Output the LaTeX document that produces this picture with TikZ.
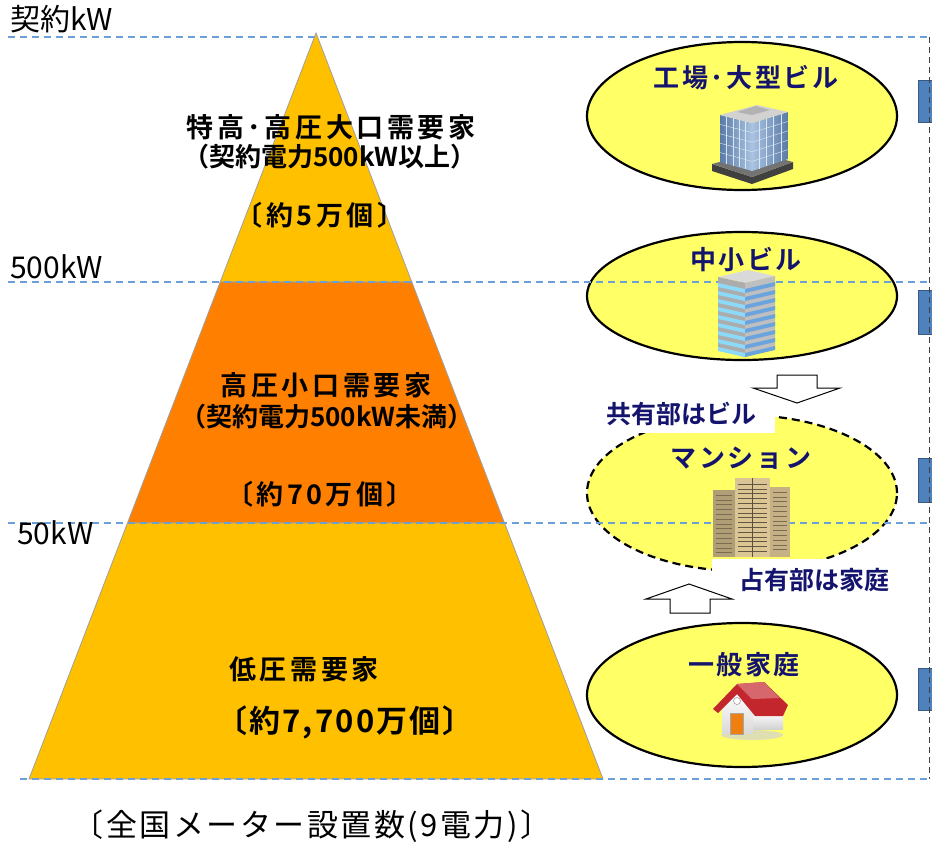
\documentclass[tikz,border=0pt]{standalone}
\usepackage{fontspec}
\setmainfont{Noto Sans CJK JP}[BoldFont={Noto Sans CJK JP Bold}]
\usetikzlibrary{shapes.geometric,calc}

\definecolor{gold}{HTML}{FFC000}
\definecolor{deeporange}{HTML}{FF8000}
\definecolor{lemon}{HTML}{FFFF66}
\definecolor{navy}{HTML}{14146E}
\definecolor{gridblue}{HTML}{6A9FD8}
\definecolor{boxblue}{HTML}{4F81BD}
\definecolor{tan}{HTML}{DCC595}
\definecolor{roofred}{HTML}{C4262E}
\definecolor{glassdark}{HTML}{5A7BA8}
\definecolor{glasslight}{HTML}{A9C3E0}

\tikzset{
  level/.style={draw=gridblue, dash pattern=on 7pt off 5pt, line width=1.2pt},
  tier/.style={draw=gray!75, line width=0.8pt},
  tiertext/.style={font=\bfseries\fontsize{27}{32}\selectfont\addfontfeatures{LetterSpace=13},
    align=center, inner sep=0},
  condtext/.style={tiertext, font=\bfseries\fontsize{26}{31}\selectfont},
  kwlabel/.style={font=\fontsize{30}{34}\selectfont, anchor=west, inner sep=0},
  bubble/.style={ellipse, draw=black, line width=2.2pt, fill=lemon, minimum width=310pt},
  bubbletext/.style={font=\bfseries\fontsize{26}{30}\selectfont\addfontfeatures{LetterSpace=10},
    text=navy, inner sep=0},
  notebox/.style={bubbletext, font=\bfseries\fontsize{25}{30}\selectfont, fill=white, inner sep=0},
  blockarrow/.style={draw=black, fill=white, line width=1pt, line join=miter},
  sidebox/.style={fill=boxblue, draw=boxblue!70!black, line width=1pt},
}

\begin{document}
\begin{tikzpicture}[x=1pt,y=-1pt]
\clip (0,0) rectangle (932,841);
\fill[white] (0,0) rectangle (932,841);

% pyramid
\coordinate (apex) at (316,33);
\coordinate (bl) at (29,779);
\coordinate (br) at (603,779);
\coordinate (l1) at ($(apex)!0.3338!(bl)$);
\coordinate (r1) at ($(apex)!0.3338!(br)$);
\coordinate (l2) at ($(apex)!0.6568!(bl)$);
\coordinate (r2) at ($(apex)!0.6568!(br)$);
\filldraw[tier, fill=gold] (apex) -- (r1) -- (l1) -- cycle;
\filldraw[tier, fill=deeporange] (l1) -- (r1) -- (r2) -- (l2) -- cycle;
\filldraw[tier, fill=gold] (l2) -- (r2) -- (br) -- (bl) -- cycle;

% customer bubbles
\node[bubble, minimum height=148pt] (plant) at (742,116) {};
\node[bubble, minimum height=128pt] (office) at (742,296) {};
\node[bubble, dash pattern=on 8pt off 5pt, minimum height=156pt] (flat) at (742,493) {};
\node[bubble, minimum height=144pt] (home) at (742,695) {};

% blue boxes at the right edge
\filldraw[sidebox] (918,80) rectangle (945,122);
\filldraw[sidebox] (918,290) rectangle (945,334);
\filldraw[sidebox] (918,458) rectangle (945,502);
\filldraw[sidebox] (918,668) rectangle (945,710);
\draw[gray!50!black, dash pattern=on 6pt off 4pt, line width=1pt] (929,37) -- (929,779);

% contract levels
\draw[level] (8,37) -- (932,37);
\draw[level] (8,282) -- (932,282);
\draw[level] (8,523) -- (932,523);
\draw[level] (20,779) -- (932,779);

\node[kwlabel] (kwtop) at (10,19) {契約kW};
\node[kwlabel] (kwhigh) at (10,267) {500kW};
\node[kwlabel] (kwlow) at (17,533) {50kW};

% pyramid labels
\node[tiertext] (bigname) at (331,127) {特高･高圧大口需要家};
\node[condtext] (bigcond) at (330,157) {（契約電力500kW以上）};
\node[tiertext] (bignum) at (320,215) {〔約5万個〕};
\node[tiertext] (midname) at (326,385) {高圧小口需要家};
\node[condtext] (midcond) at (327,417) {（契約電力500kW未満）};
\node[tiertext] (midnum) at (320,494) {〔約70万個〕};
\node[tiertext] (lowname) at (304,669) {低圧需要家};
\node[tiertext, font=\bfseries\fontsize{31}{35}\selectfont\addfontfeatures{LetterSpace=7}] (lownum) at (345,722) {〔約7,700万個〕};
\node[tiertext, font=\fontsize{31}{35}\selectfont\addfontfeatures{LetterSpace=8}] (total) at (312,826) {〔全国メーター設置数(9電力)〕};

% mansion notes
\node[notebox, minimum width=188pt, minimum height=38pt] (common) at (681,414) {共有部はビル};
\node[notebox, minimum width=204pt, minimum height=42pt] (private) at (814,580) {占有部は家庭};

% arrows into the mansion bubble
\draw[blockarrow] (777,375) -- (817,375) -- (817,388) -- (840,388) -- (797,403)
                  -- (753,388) -- (777,388) -- cycle;
\draw[blockarrow] (670,613) -- (710,613) -- (710,599) -- (732,599) -- (689,584)
                  -- (646,599) -- (670,599) -- cycle;

% bubble titles
\node[bubbletext] (plantname) at (746,78) {工場･大型ビル};
\node[bubbletext] (officename) at (746,260) {中小ビル};
\node[bubbletext] (flatname) at (741,458) {マンション};
\node[bubbletext] (homename) at (744,665) {一般家庭};

% large glass building
\fill[black!75] (712,164) -- (752,177) -- (793,162) -- (793,169) -- (752,184) -- (712,171) -- cycle;
\fill[black!55] (712,164) -- (752,177) -- (793,162) -- (756,152) -- cycle;
\shade[left color=glassdark, right color=glasslight] (720,115) -- (752,123) -- (752,171) -- (720,162) -- cycle;
\shade[left color=glasslight, right color=glassdark] (752,123) -- (788,112) -- (788,159) -- (752,171) -- cycle;
\fill[gray!35] (720,115) -- (752,123) -- (788,112) -- (757,105) -- cycle;
\fill[gray!60] (737,112) -- (752,115) -- (770,110) -- (756,106) -- cycle;
\foreach \t in {0.2,0.4,0.6,0.8} {
  \draw[white!60!glasslight, line width=0.4pt] ($(720,115)!\t!(720,162)$) -- ($(752,123)!\t!(752,171)$)
                                               -- ($(788,112)!\t!(788,159)$);
  \draw[white!60!glasslight, line width=0.4pt] ($(720,115)!\t!(752,123)$) -- ($(720,162)!\t!(752,171)$);
  \draw[white!60!glasslight, line width=0.4pt] ($(752,123)!\t!(788,112)$) -- ($(752,171)!\t!(788,159)$);
}

% office tower
\fill[gray!30] (718,277) -- (745,283) -- (775,276) -- (748,270) -- cycle;
\fill[gray!65] (718,277) -- (745,283) -- (745,357) -- (718,350) -- cycle;
\fill[gray!50] (745,283) -- (775,276) -- (775,349) -- (745,357) -- cycle;
\foreach \k in {0,...,8} {
  \fill[cyan!45] ($(718,283)+(0,8*\k)$) -- ($(745,289)+(0,8*\k)$) -- ($(745,293)+(0,8*\k)$) -- ($(718,287)+(0,8*\k)$) -- cycle;
  \fill[cyan!60!blue!60] ($(745,289)+(0,8*\k)$) -- ($(775,282)+(0,8*\k)$) -- ($(775,286)+(0,8*\k)$) -- ($(745,293)+(0,8*\k)$) -- cycle;
}

% apartment block
\fill[tan!80!black] (713,490) rectangle (735,557);
\fill[tan] (735,478) rectangle (770,557);
\fill[tan!90!black] (770,487) rectangle (790,557);
\foreach \k in {0,...,14} {
  \draw[tan!45!black, line width=0.6pt] (738,{484+4.8*\k}) -- (767,{484+4.8*\k});
}
\foreach \k in {0,...,12} {
  \draw[tan!55!black, line width=0.5pt] (716,{495+4.8*\k}) -- (732,{495+4.8*\k});
  \draw[tan!55!black, line width=0.5pt] (773,{492+4.8*\k}) -- (787,{492+4.8*\k});
}
\draw[tan!40!black, line width=0.5pt] (752,478) -- (752,557);

% house
\fill[gray!35, opacity=0.7] (752,735) ellipse [x radius=31pt, y radius=5pt];
\shade[top color=white, bottom color=gray!35] (753,712) rectangle (783,729);
\shade[top color=white, bottom color=gray!30] (722,705) -- (737,691) -- (753,705) -- (753,734) -- (722,734) -- cycle;
\fill[roofred] (713,709) -- (737,684) -- (764,682) -- (788,705) -- (783,716) -- (755,716) -- (737,694) -- (718,713) -- cycle;
\fill[roofred!70!white] (737,684) -- (764,682) -- (780,698) -- (752,699) -- cycle;
\filldraw[fill=white, draw=gray] (737,701) circle [radius=3.5pt];
\filldraw[fill=orange!75!brown, draw=gray!70] (730,713) rectangle (743,734);
\end{tikzpicture}
\end{document}
